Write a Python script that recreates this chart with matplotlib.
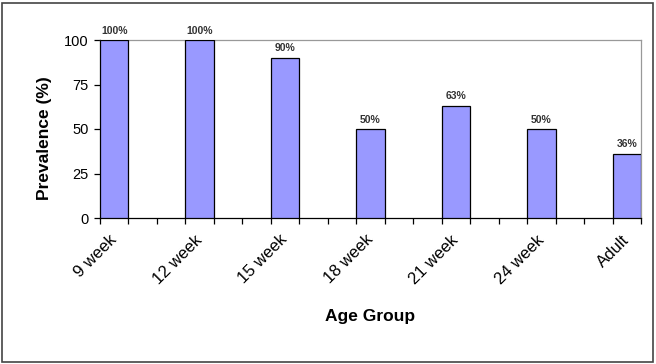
import numpy as np
import matplotlib.pyplot as plt
from matplotlib.patches import Rectangle

plt.rcParams['font.family'] = ['Liberation Sans', 'DejaVu Sans']

grupos = ["9 week", "12 week", "15 week", "18 week", "21 week", "24 week", "Adult"]
prevalencia = [100, 100, 90, 50, 63, 50, 36]
etiquetas = ["100%", "100%", "90%", "50%", "63%", "50%", "36%"]

fig = plt.figure(figsize=(6.56, 3.64), dpi=100)
ax = fig.add_axes([100 / 656, 1 - 218 / 364, 541 / 656, 178 / 364])

# cada barra ocupa una unidad, separadas cada 3 unidades
pos = np.arange(len(grupos)) * 3
ax.bar(pos, prevalencia, width=1, align="edge", color="#9999FF", edgecolor="black", linewidth=0.9, zorder=3)

for x, v, t in zip(pos, prevalencia, etiquetas):
    ax.text(x + 0.5, v + 2.5, t, ha="center", va="bottom", fontsize=7.5, fontweight="bold", color="#333333",
            zorder=4, bbox=dict(facecolor="white", edgecolor="none", pad=0.6))

ax.set_xlim(0, 19)
ax.set_ylim(0, 100)
ax.set_yticks([0, 25, 50, 75, 100])
ax.tick_params(axis="y", labelsize=10.5, length=4, width=0.9, pad=4)

# marcas en cada unidad del eje x, etiquetas en el centro de cada barra
ax.set_xticks(np.arange(0, 20))
ax.set_xticklabels([])
ax.tick_params(axis="x", which="major", direction="out", length=4.5, width=0.9, color="black")
ax.set_xticks(pos + 0.5, minor=True)
ax.set_xticklabels(grupos, minor=True, rotation=45, ha="right", va="center", rotation_mode="anchor", fontsize=12)
ax.tick_params(axis="x", which="minor", length=0, pad=14)

for s in ["top", "right"]:
    ax.spines[s].set_color("#999999")
    ax.spines[s].set_linewidth(0.9)
for s in ["left", "bottom"]:
    ax.spines[s].set_linewidth(0.9)

fig.text(45 / 656, 1 - 138 / 364, "Prevalence (%)", rotation=90, ha="center", va="center",
         fontsize=12.5, fontweight="bold")
fig.text((100 + 641) / 2 / 656, 1 - 316 / 364, "Age Group", ha="center", va="center", fontsize=12.5, fontweight="bold")

fig.patches.append(Rectangle((2 / 656, 2 / 364), 651 / 656, 359 / 364, transform=fig.transFigure,
                             fill=False, edgecolor="#444444", linewidth=1.2))

plt.savefig("out.png", dpi=100)
